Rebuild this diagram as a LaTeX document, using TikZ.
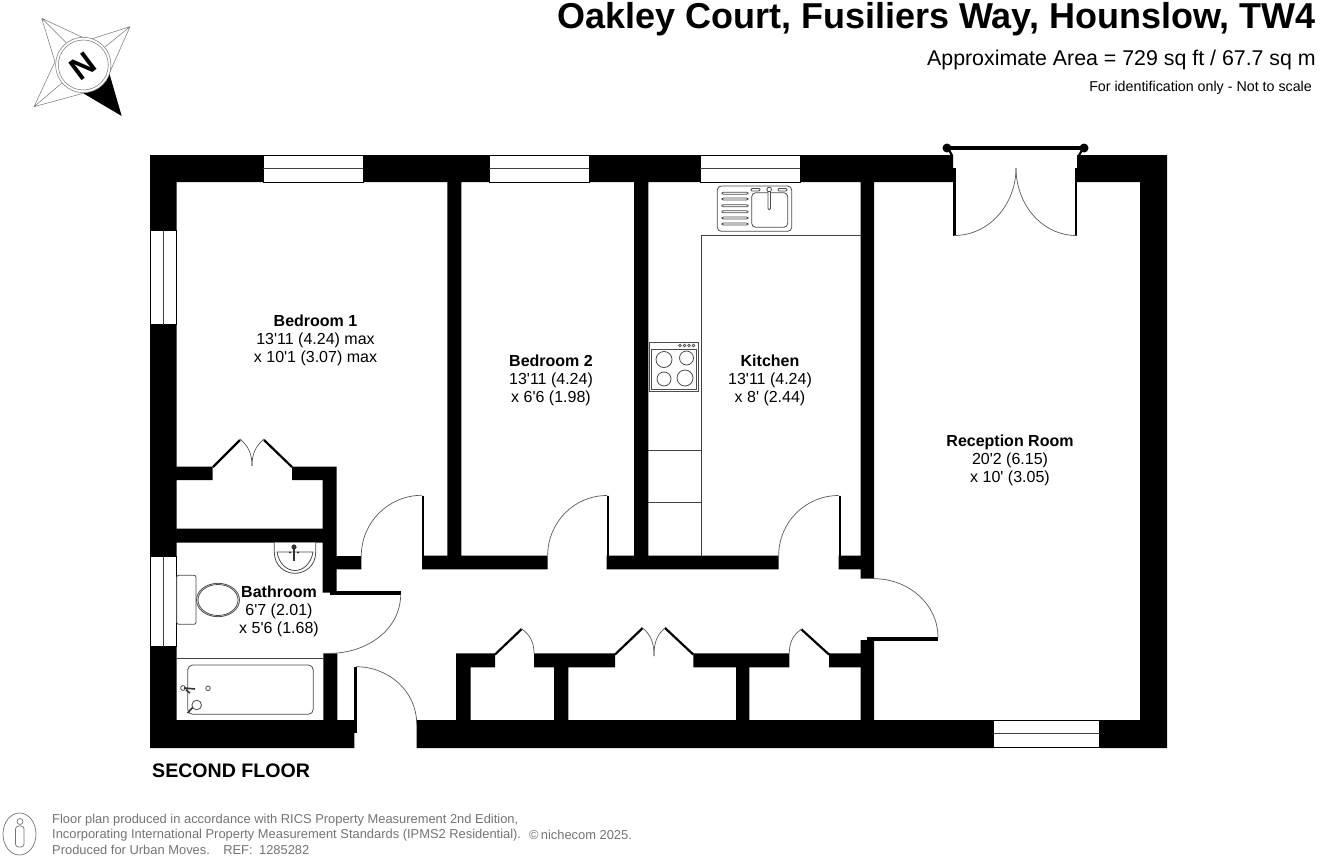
\documentclass[tikz,border=0pt]{standalone}
\usepackage{fontspec}
\setmainfont{Liberation Sans}[Ligatures=TeXOff]
\tikzset{
  wall/.style={fill=black},
  glazing/.style={draw=black,fill=white,line width=0.8pt},
  thin line/.style={draw=black!75,line width=0.8pt},
  swing/.style={draw=black!65,line width=0.7pt},
  leaf/.style={draw=black,line width=2.2pt},
  fitting/.style={draw=black!70,line width=0.8pt,fill=white},
  star/.style={draw=black!55,line width=0.5pt},
  room/.style={align=center,inner sep=0pt,font=\fontsize{16}{18}\selectfont},
  note/.style={align=left,anchor=west,inner sep=0pt,text=black!55,font=\fontsize{12.9}{15}\selectfont},
  faint/.style={draw=black!55,line width=0.7pt}
}
\begin{document}
\begin{tikzpicture}[x=1pt,y=-1pt]
\useasboundingbox (0,0) rectangle (1320,859);

\fill [wall] (150,155) rectangle (263,182) (363,155) rectangle (489,182)
  (589,155) rectangle (700,182) (800,155) rectangle (953,182)
  (953,168) rectangle (955.7,182) (1077,155) rectangle (1167,182)
  (1075,168) rectangle (1077,182)
  (150,155) rectangle (176.5,230.5) (150,324.5) rectangle (176.5,556.5)
  (150,646.5) rectangle (176.5,748)
  (1140,155) rectangle (1167,748)
  (150,720) rectangle (354.3,748) (416.7,720) rectangle (994,748)
  (1100,720) rectangle (1167,748)
  (447.3,182) rectangle (461.3,556) (634,182) rectangle (648.3,556)
  (860.7,182) rectangle (874,578.7)
  (176.5,466.7) rectangle (212.7,480) (292,466.7) rectangle (336.7,480)
  (322.7,466.7) rectangle (336.7,592.7) (176.5,528.7) rectangle (323,542.7)
  (336.7,556) rectangle (361.3,569.3) (323.3,653.3) rectangle (337.3,720)
  (422,555.5) rectangle (547.7,569.3) (606.7,555.5) rectangle (778.7,569.3)
  (838.7,555.5) rectangle (861,569.3)
  (860.7,640) rectangle (874,720)
  (456,653.3) rectangle (495,667.3) (456,653.3) rectangle (470.7,720)
  (534,653.3) rectangle (615,667.3) (554,653.3) rectangle (568.3,720)
  (693.3,653.3) rectangle (789.3,667.3) (736,653.3) rectangle (749.3,720)
  (829,653.3) rectangle (861,667.3);

\draw [glazing] (263,155) rectangle (363,182);
\draw [thin line] (263,168.5) -- (363,168.5);
\draw [glazing] (489,155) rectangle (589,182);
\draw [thin line] (489,168.5) -- (589,168.5);
\draw [glazing] (700,155) rectangle (800,182);
\draw [thin line] (700,168.5) -- (800,168.5);
\draw [glazing] (993.5,720.5) rectangle (1099.5,747.5);
\draw [thin line] (993.5,733.5) -- (1099.5,733.5);
\draw [glazing] (150,230.5) rectangle (176.5,324.5);
\draw [thin line] (163.7,230.5) -- (163.7,324.5);
\draw [glazing] (150,556.5) rectangle (176.5,646.5);
\draw [thin line] (163.7,556.5) -- (163.7,646.5);

\draw [draw=black,line width=3.8pt] (947,148) -- (1084,148);
\fill (947,148) circle (4.5) (1084,148) circle (4.5);
\draw [leaf] (949,150) -- (952,155.5) (1082,150) -- (1079,155.5);
\draw [leaf] (954.5,168) -- (954.5,235.5);
\draw [leaf] (1076,168) -- (1076,235.5);
\draw [swing] (954,235.5) to[out=0,in=270] (1016,168);
\draw [swing] (1076.5,235.5) to[out=180,in=270] (1016,168);

\draw [leaf] (422.8,495.5) -- (422.8,556);
\draw [swing] (361.3,556) to[out=90,in=180] (422,495.3);
\draw [leaf] (608.3,495.5) -- (608.3,556);
\draw [swing] (547.7,555.5) to[out=90,in=180] (607,495.5);
\draw [leaf] (840,495.5) -- (840,556);
\draw [swing] (778.7,555.5) to[out=90,in=180] (838.7,495.5);
\draw [draw=black,line width=3.2pt] (867.3,639) -- (938,639);
\draw [swing] (874,578.7) to[out=0,in=90] (938,637.5);
\draw [draw=black,line width=3.2pt] (330,593) -- (400.7,593);
\draw [swing] (400.7,594) to[out=270,in=0] (330,653.3);
\draw [leaf] (355.5,666.7) -- (355.5,733);
\draw [swing] (356,666.7) to[out=0,in=90] (416.7,724);

\draw [leaf] (213,467) -- (240,440);
\draw [leaf] (292,467) -- (264,440);
\draw [swing] (240,439) to[out=-40,in=90] (252,466);
\draw [swing] (264,439) to[out=220,in=90] (252,466);
\draw [leaf] (495,654.5) -- (521.7,629);
\draw [swing] (521.7,629) to[out=-35,in=90] (534,653.3);
\draw [leaf] (615,654.5) -- (642.7,628);
\draw [leaf] (693.3,654.5) -- (665,628);
\draw [swing] (642.7,628) to[out=-40,in=90] (654,656);
\draw [swing] (665,628) to[out=220,in=90] (654,656);
\draw [leaf] (829,654.5) -- (801.3,629.3);
\draw [swing] (801.3,629.3) to[out=215,in=90] (789.3,653.3);

\draw [thin line] (861,235.5) -- (701,235.5) -- (701,555.5);
\draw [thin line] (648.3,450) -- (701,450) (648.3,502.7) -- (701,502.7);
\draw [fitting,rounded corners=4pt] (717.3,186) rectangle (791.7,231.3);
\draw [fitting,rounded corners=4pt] (751.7,192.7) rectangle (787.7,227.3);
\draw [fitting,rounded corners=1.2pt] (722,192.3) rectangle (748,194.3)
  (722,198) rectangle (748,200) (722,204.7) rectangle (748,206.7)
  (722,210.7) rectangle (748,212.7) (722,217) rectangle (748,219)
  (722,223) rectangle (748,225);
\draw [fitting,rounded corners=1pt] (751,188.5) rectangle (760,191)
  (778,188.5) rectangle (787,191);
\draw [fitting,rounded corners=1pt] (768,190) rectangle (770.5,209.5);
\draw [fitting] (769.2,189.5) circle (2.3);

\draw [fitting] (649.3,342.3) rectangle (698.3,391);
\draw [fitting] (651.7,349) rectangle (696,389);
\draw [fitting] (664,359.5) circle (8) (686.5,358) circle (7)
  (664,379) circle (7) (685,378) circle (8);
\draw [fitting,line width=0.6pt] (680,345.5) circle (1.4) (684.5,345.5) circle (1.4)
  (689,345.5) circle (1.4) (693.5,345.5) circle (1.4);

\draw [fitting] (274.3,542.7) -- (274.3,552) .. controls (274.3,566) and (285,573.3) .. (295,573.3)
  .. controls (305,573.3) and (315.7,566) .. (315.7,552) -- (315.7,542.7);
\draw [fitting] (277,552) .. controls (279,564) and (287,570.5) .. (295,570.5)
  .. controls (303,570.5) and (311,564) .. (313,552) -- cycle;
\draw [draw=black!80,line width=1.6pt] (294,549) -- (294,561);
\fill [black!80] (294,547) circle (2.6) (290,552.5) circle (1.2) (298,552.5) circle (1.2);

\draw [fitting,rounded corners=2pt] (176.7,575.3) rectangle (196,624.3);
\draw [fitting] (218,600) ellipse (21.5 and 16.7);
\draw [fitting] (218,600) ellipse (20 and 15.5);
\draw [thin line] (176.5,658) -- (323.3,658);
\draw [fitting,rounded corners=5pt] (187.7,665) rectangle (313.3,714.3);
\draw [fitting] (208,688.3) circle (2.3);
\draw [fitting] (183,688) circle (2.4);
\draw [draw=black!80,line width=1.6pt] (184,688) -- (195,689) (186,690) -- (190,693);
\draw [draw=black!80,line width=1.6pt] (187.5,713) -- (196,704);
\draw [fitting] (196.7,705) circle (4.8);

\draw [star] (41.7,18.3) -- (88.3,40) (41.7,18.3) -- (55,61.7) (41.7,18.3) -- (66.5,43);
\draw [star] (130,26.7) -- (88.3,40) (130,26.7) -- (109.3,73.3) (130,26.7) -- (105,47);
\draw [star] (34,106.7) -- (55,61.7) (34,106.7) -- (83.3,93.3) (34,106.7) -- (62,83);
\fill (109.3,73.3) -- (121.7,116) -- (83.3,93.3) .. controls (94,92) and (105,85) .. cycle;
\draw [fill=white,star] (83.3,65) circle (27.7);
\draw [star] (83.3,65) circle (25);
\node (N) at (83.3,66) [rotate=217,inner sep=0pt,font=\fontsize{32}{32}\selectfont\bfseries] {N};

\node (T) at (1316,19.5) [anchor=east,inner sep=0pt,font=\fontsize{36}{36}\selectfont\bfseries] {Oakley Court, Fusiliers Way, Hounslow, TW4};
\node (A) at (1316,60) [anchor=east,inner sep=0pt,font=\fontsize{21.35}{22}\selectfont] {Approximate Area = 729 sq ft / 67.7 sq m};
\node (I) at (1312,87.5) [anchor=east,inner sep=0pt,font=\fontsize{14.25}{15}\selectfont] {For identification only - Not to scale};

\node (BedA) at (315.5,340) [room] {\textbf{Bedroom 1}\\13'11 (4.24) max\\x 10'1 (3.07) max};
\node (BedB) at (551,380.5) [room] {\textbf{Bedroom 2}\\13'11 (4.24)\\x 6'6 (1.98)};
\node (Kit) at (770,380.5) [room] {\textbf{Kitchen}\\13'11 (4.24)\\x 8' (2.44)};
\node (Rec) at (1010,460.5) [room] {\textbf{Reception Room}\\20'2 (6.15)\\x 10' (3.05)};
\node (Bath) at (279,611) [room] {\textbf{Bathroom}\\6'7 (2.01)\\x 5'6 (1.68)};
\node (Fl) at (152,770.5) [anchor=west,inner sep=0pt,font=\fontsize{19.6}{20}\selectfont\bfseries] {SECOND FLOOR};

\node (Pa) at (52,820) [note] {Floor plan produced in accordance with RICS Property Measurement 2nd Edition,};
\node (Pb) at (52,835) [note] {Incorporating International Property Measurement Standards (IPMS2 Residential).};
\node (Pc) at (52,850) [note] {Produced for Urban Moves.\enspace\, REF:\enspace 1285282};
\node (Cr) at (529,835) [note] {©\,nichecom 2025.};
\draw [faint] (19.5,834) ellipse (16.5 and 21);
\draw [faint] (20,821.5) circle (3);
\draw [faint,rounded corners=3pt] (15.5,826) rectangle (24,847);
\end{tikzpicture}
\end{document}
